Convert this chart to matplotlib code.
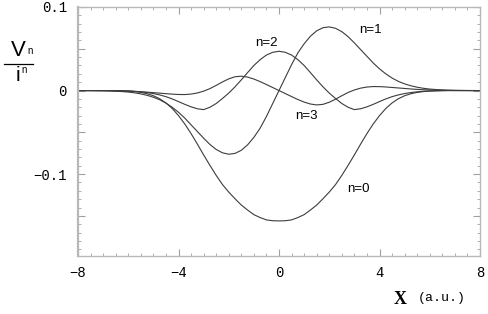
import numpy as np
import matplotlib
matplotlib.use("Agg")
import matplotlib.pyplot as plt
from matplotlib.ticker import MultipleLocator, FixedLocator
from matplotlib.lines import Line2D

# ---- data ----
x_pos = [0, 0.25, 0.5, 0.75, 1.0, 1.25, 1.5, 1.75, 2.0, 2.25, 2.5, 2.75, 3.0,
         3.25, 3.5, 3.75, 4.0, 4.25, 4.5, 4.75, 5.0, 5.25, 5.5, 5.75, 6.0,
         6.25, 6.5, 6.75, 7.0, 7.5, 8.0]

# symmetric curves (values for x >= 0)
v0_pos = [-0.156, -0.1558, -0.1548, -0.152, -0.1485, -0.143, -0.137, -0.1295,
          -0.1215, -0.1125, -0.1015, -0.0895, -0.077, -0.064, -0.0515, -0.040,
          -0.030, -0.0215, -0.0148, -0.0098, -0.0062, -0.0038, -0.0022, -0.0012,
          -0.0006, -0.0003, -0.0001, 0.0, 0.0, 0.0, 0.0]
v2_pos = [0.047, 0.0458, 0.0425, 0.037, 0.030, 0.0215, 0.0128, 0.0045, -0.003,
          -0.0095, -0.0155, -0.020, -0.0228, -0.0218, -0.0195, -0.0165, -0.0132,
          -0.010, -0.0073, -0.0052, -0.0036, -0.0024, -0.0015, -0.0009, -0.0005,
          -0.0003, -0.0001, 0.0, 0.0, 0.0, 0.0]
# antisymmetric curves (values for x >= 0)
v1_pos = [0.0, 0.0155, 0.031, 0.045, 0.056, 0.065, 0.0715, 0.0752, 0.0762,
          0.0745, 0.0705, 0.0645, 0.057, 0.049, 0.041, 0.033, 0.026, 0.020,
          0.015, 0.011, 0.008, 0.0057, 0.004, 0.0027, 0.0018, 0.0012, 0.0008,
          0.0005, 0.0003, 0.0001, 0.0]
v3_pos = [0.0, -0.0036, -0.0072, -0.0107, -0.0138, -0.0161, -0.0172, -0.0165,
          -0.0140, -0.0103, -0.0062, -0.0023, 0.0007, 0.0029, 0.0042, 0.0048,
          0.0047, 0.0043, 0.0037, 0.0031, 0.0025, 0.0019, 0.0014, 0.0010, 0.0007,
          0.0005, 0.0003, 0.0002, 0.0001, 0.0, 0.0]

labels = ["n=0", "n=1", "n=2", "n=3"]
label_xy = [(3.15, -0.118), (3.65, 0.072), (-0.5, 0.057), (1.08, -0.031)]

x_ticks = [-8, -4, 0, 4, 8]
x_ticklabels = ["\u22128", "\u22124", "0", "4", "8"]
y_ticks = [-0.1, 0.0, 0.1]
y_ticklabels = ["\u22120.1", "0", "0.1"]


def full(xp, vp, odd):
    xs = [-v for v in xp[:0:-1]] + list(xp)
    if odd:
        vs = [-v for v in vp[:0:-1]] + list(vp)
    else:
        vs = list(vp[:0:-1]) + list(vp)
    return np.array(xs), np.array(vs)


fig = plt.figure(figsize=(4.88, 3.14), dpi=100)
ax = fig.add_axes([78 / 488, 1 - 256 / 314, (480 - 78) / 488, (256 - 7) / 314])

line_color = "#3c3c3c"
for vp, odd in [(v0_pos, False), (v1_pos, True), (v2_pos, False), (v3_pos, True)]:
    xs, vs = full(x_pos, vp, odd)
    ax.plot(xs, vs, color=line_color, lw=0.8)

ax.set_xlim(-8, 8)
ax.set_ylim(-0.198, 0.1)

for s in ax.spines.values():
    s.set_color("#b8b8b8")
    s.set_linewidth(1.0)
ax.spines["left"].set_linewidth(1.6)

ax.xaxis.set_major_locator(FixedLocator(x_ticks))
ax.set_xticklabels(x_ticklabels)
ax.xaxis.set_minor_locator(MultipleLocator(0.5))
ax.yaxis.set_major_locator(FixedLocator([-0.15, -0.1, -0.05, 0.0, 0.05, 0.1]))
ax.set_yticklabels(["", y_ticklabels[0], "", y_ticklabels[1], "", y_ticklabels[2]])
ax.yaxis.set_minor_locator(MultipleLocator(0.01))

ax.tick_params(which="both", direction="in", color="#a0a0a0", top=True, right=True,
               labelsize=10)
ax.tick_params(which="major", length=5, width=0.8)
ax.tick_params(which="minor", length=2.5, width=0.6)
ax.tick_params(axis="x", pad=7)
ax.tick_params(axis="y", pad=8)
for lab in ax.get_xticklabels() + ax.get_yticklabels():
    lab.set_fontfamily("Liberation Mono")

for t, (lx, ly) in zip(labels, label_xy):
    ax.text(lx, ly, t, fontsize=9.5, family="Liberation Sans", ha="center", va="center")

# y label as a fraction
fig.text(18 / 488, 1 - 50 / 314, "V", fontsize=16, family="Liberation Sans",
         ha="center", va="center")
fig.text(30 / 488, 1 - 51 / 314, "n", fontsize=7, family="Liberation Sans",
         ha="center", va="center")
fig.add_artist(Line2D([4 / 488, 33 / 488], [1 - 64 / 314, 1 - 64 / 314],
                      color="black", lw=0.9))
fig.text(17.5 / 488, 1 - 76 / 314, "i", fontsize=15, family="Liberation Sans",
         ha="center", va="center")
fig.text(24 / 488, 1 - 70 / 314, "n", fontsize=7, family="Liberation Sans",
         ha="center", va="center")

# x label
fig.text(400 / 488, 1 - 299 / 314, "X", fontsize=13, family="Liberation Serif",
         weight="bold", ha="center", va="center")
fig.text(442 / 488, 1 - 298 / 314, "(a.u.)", fontsize=9.5, family="Liberation Mono",
         ha="center", va="center")

fig.savefig("out.png", dpi=100)
